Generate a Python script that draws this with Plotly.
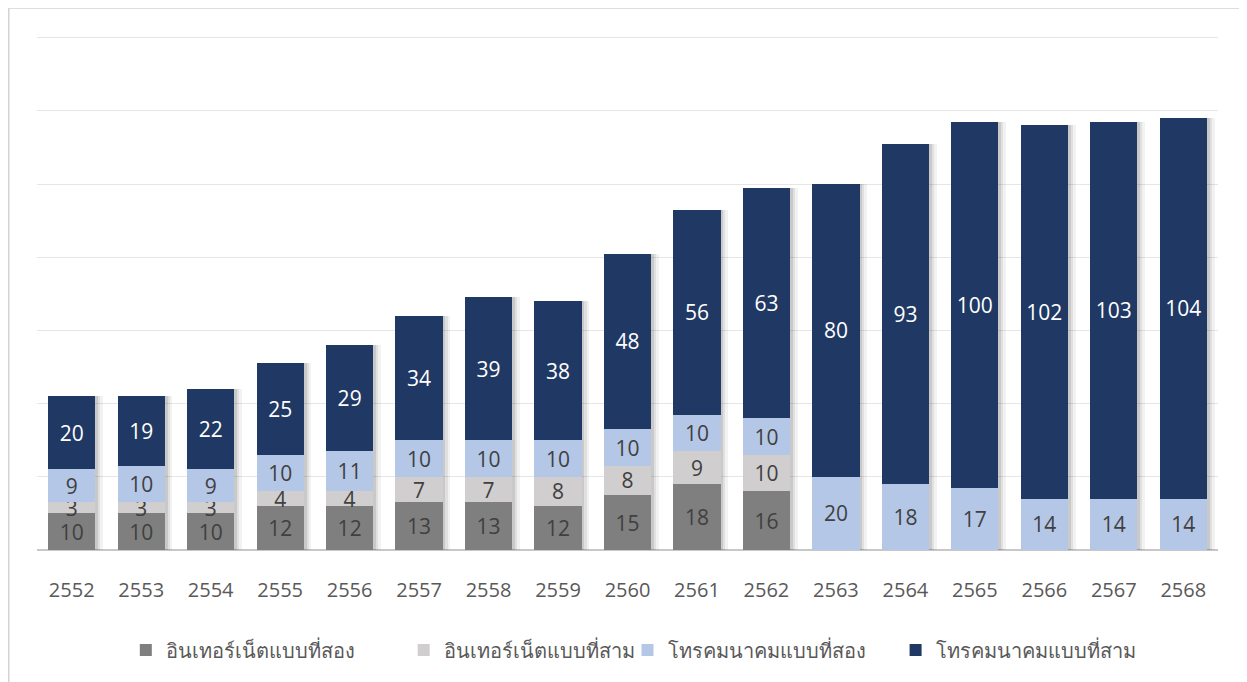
import plotly.graph_objects as go

years = ["2552", "2553", "2554", "2555", "2556", "2557", "2558", "2559", "2560",
         "2561", "2562", "2563", "2564", "2565", "2566", "2567", "2568"]
internet2 = [10, 10, 10, 12, 12, 13, 13, 12, 15, 18, 16, None, None, None, None, None, None]
internet3 = [3, 3, 3, 4, 4, 7, 7, 8, 8, 9, 10, None, None, None, None, None, None]
telecom2 = [9, 10, 9, 10, 11, 10, 10, 10, 10, 10, 10, 20, 18, 17, 14, 14, 14]
telecom3 = [20, 19, 22, 25, 29, 34, 39, 38, 48, 56, 63, 80, 93, 100, 102, 103, 104]

names = ["อินเทอร์เน็ตแบบที่สอง", "อินเทอร์เน็ตแบบที่สาม", "โทรคมนาคมแบบที่สอง", "โทรคมนาคมแบบที่สาม"]
series = [internet2, internet3, telecom2, telecom3]
colors = ["#7f7f7f", "#d0cece", "#b4c7e7", "#203864"]
text_colors = ["#404040", "#404040", "#404040", "#ffffff"]

totals = [sum(v for v in vals if v is not None) for vals in zip(*series)]

FONT = "Open Sans, Noto Sans, sans-serif"
YR = [0, 141]
XR = [-0.5, 16.5]
fig = go.Figure()

# soft shadows behind bars, each on its own overlaid axes so they do not stack
shadow_specs = [("x", "y", 0.78, -0.33, 0.05), ("x2", "y2", 0.74, -0.33, 0.07),
                ("x3", "y3", 0.71, -0.33, 0.10)]
for xa, ya, w, off, op in shadow_specs:
    fig.add_trace(go.Bar(x=years, y=totals, width=w, offset=off,
                         marker=dict(color=f"rgba(0,0,0,{op})", line=dict(width=0)),
                         hoverinfo="skip", showlegend=False, xaxis=xa, yaxis=ya))

legend_ids = ["legend", "legend2", "legend3", "legend4"]
legend_x = [0.0752, 0.3105, 0.500, 0.7270]

for name, vals, c, tc, lg in zip(names, series, colors, text_colors, legend_ids):
    fig.add_trace(go.Bar(
        x=years, y=vals, name=name, legend=lg,
        marker=dict(color=c, line=dict(width=0)),
        text=[("" if v is None else str(v)) for v in vals],
        textposition="inside", insidetextanchor="middle",
        constraintext="none", textangle=0,
        textfont=dict(family=FONT, size=21, color=tc),
        xaxis="x4", yaxis="y4",
    ))

hidden = dict(showticklabels=False, showgrid=False, showline=False, ticks="", zeroline=False)
legend_style = dict(orientation="h", xanchor="left", y=-0.1938, yanchor="middle",
                    font=dict(size=20, color="#595959"), itemwidth=30,
                    bgcolor="rgba(0,0,0,0)")
layout_legends = {lg: dict(x=lx, **legend_style) for lg, lx in zip(legend_ids, legend_x)}

fig.update_layout(
    barmode="stack",
    bargap=0.32,
    width=1239, height=674,
    margin=dict(l=29, r=29, t=26, b=132),
    paper_bgcolor="white", plot_bgcolor="white",
    font=dict(family=FONT, color="#595959"),
    xaxis=dict(showgrid=False, showline=False, ticks="", showticklabels=True,
               tickfont=dict(size=20, color="#595959"), ticklabelstandoff=26,
               range=XR),
    yaxis=dict(range=YR, dtick=20, showgrid=True, gridcolor="#e6e6e6", gridwidth=1,
               showticklabels=False, zeroline=True, zerolinecolor="#c8c8c8", zerolinewidth=1.5,
               showline=False, ticks=""),
    xaxis2=dict(overlaying="x", range=XR, **hidden),
    yaxis2=dict(overlaying="y", range=YR, **hidden),
    xaxis3=dict(overlaying="x", range=XR, **hidden),
    yaxis3=dict(overlaying="y", range=YR, **hidden),
    xaxis4=dict(overlaying="x", range=XR, **hidden),
    yaxis4=dict(overlaying="y", range=YR, **hidden),
    shapes=[dict(type="rect", xref="paper", yref="paper",
                 x0=-0.0239, x1=1.0195, y0=-0.28, y1=1.0503,
                 line=dict(color="#d4d4d4", width=1.5), fillcolor="rgba(0,0,0,0)",
                 layer="below")],
    **layout_legends,
)

fig.write_html("out.html")
